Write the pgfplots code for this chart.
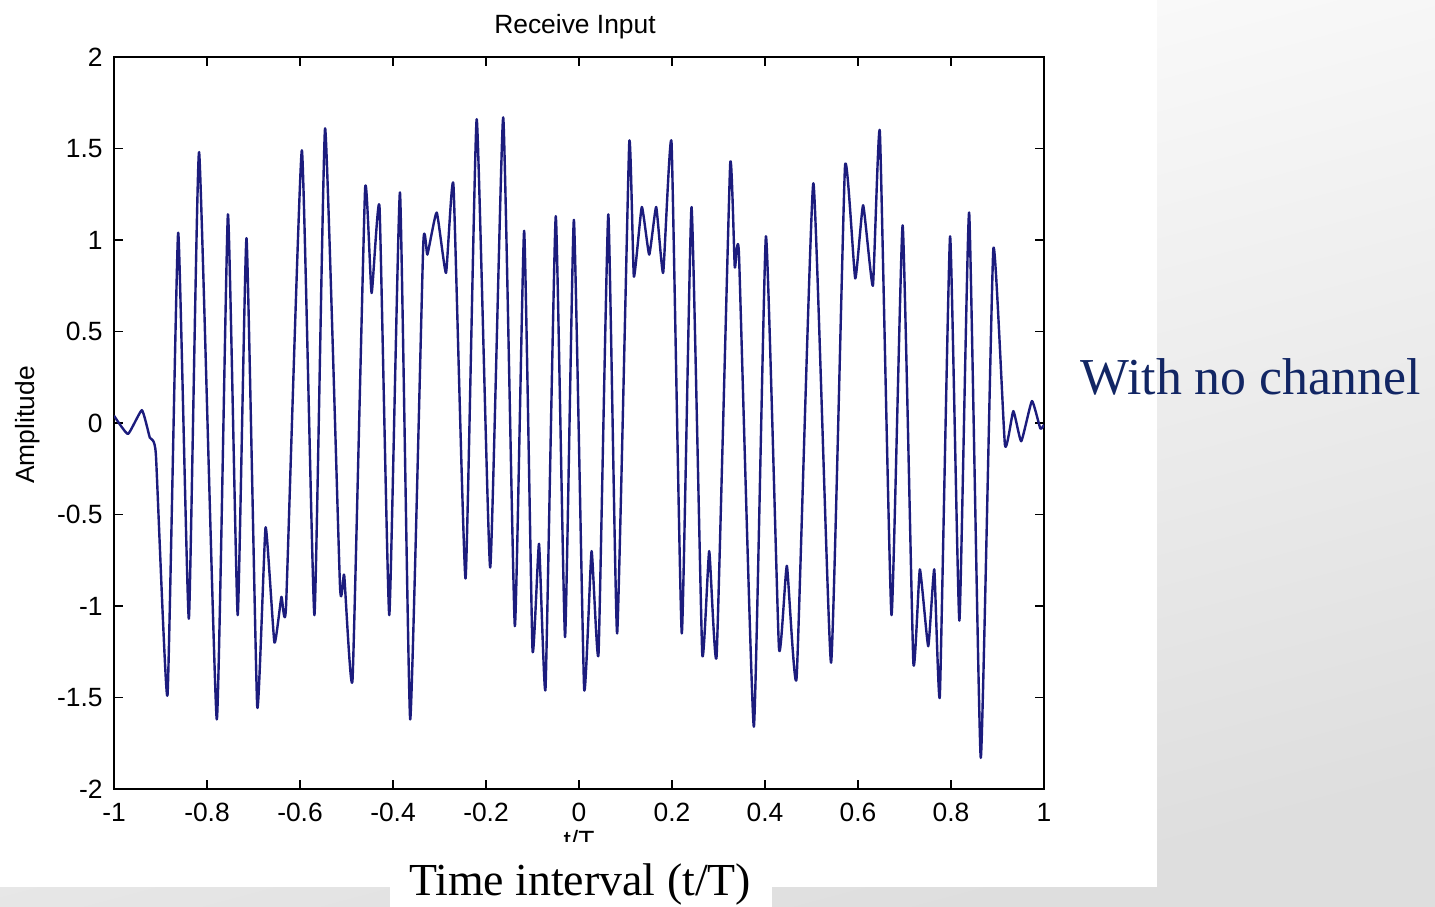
\documentclass[border=0pt]{standalone}
\usepackage{pgfplots}
\pgfplotsset{compat=1.18}
\usepackage{fontspec}
\setmainfont{Liberation Sans}
\newfontfamily\serifft{Liberation Serif}
\definecolor{navy}{RGB}{18,38,100}
\definecolor{wave}{RGB}{28,28,125}

\begin{document}
\begin{tikzpicture}[x=1bp,y=1bp]
\useasboundingbox (0,0) rectangle (717.5,453.5);
\shade[top color=white, bottom color=black!13, shading angle=15] (0,0) rectangle (717.5,453.5);
\fill[white] (0,10) rectangle (578.5,453.5);
\fill[white] (195,0) rectangle (386,23.5);
\begin{axis}[
  at={(57bp,59bp)}, anchor=south west,
  width=465bp, height=366bp, scale only axis,
  xmin=-1, xmax=1, ymin=-2, ymax=2,
  xtick={-1,-0.8,-0.6,-0.4,-0.2,0,0.2,0.4,0.6,0.8,1},
  xticklabels={-1,-0.8,-0.6,-0.4,-0.2,0,0.2,0.4,0.6,0.8,1},
  ytick={-2,-1.5,-1,-0.5,0,0.5,1,1.5,2},
  yticklabels={-2,-1.5,-1,-0.5,0,0.5,1,1.5,2},
  tick align=inside,
  major tick length=4.5bp,
  every tick/.style={black, line width=0.7bp},
  axis line style={line width=0.8bp, black},
  tick label style={font=\fontsize{13.25}{15}\selectfont, inner sep=0pt},
  xticklabel style={yshift=-7bp},
  yticklabel style={xshift=-5.5bp},
]
\addplot[wave, line width=1.2bp, smooth, tension=0.25, line join=round] coordinates {
(-1.000,0.04) (-0.970,-0.06) (-0.940,0.07) (-0.923,-0.08) (-0.910,-0.17)
(-0.885,-1.49) (-0.862,1.04) (-0.839,-1.07) (-0.817,1.48) (-0.779,-1.62)
(-0.755,1.14) (-0.734,-1.05) (-0.715,1.01) (-0.692,-1.55) (-0.674,-0.57)
(-0.655,-1.20) (-0.640,-0.95) (-0.630,-1.00) (-0.596,1.49) (-0.569,-1.05)
(-0.546,1.61) (-0.514,-0.89) (-0.505,-0.83) (-0.487,-1.40) (-0.460,1.28)
(-0.446,0.71) (-0.429,1.18) (-0.408,-1.05) (-0.385,1.26) (-0.363,-1.62)
(-0.335,0.97) (-0.326,0.92) (-0.306,1.15) (-0.286,0.82) (-0.270,1.30)
(-0.244,-0.85) (-0.220,1.66) (-0.191,-0.79) (-0.163,1.67) (-0.138,-1.11)
(-0.118,1.05) (-0.100,-1.24) (-0.086,-0.66) (-0.072,-1.45) (-0.050,1.13)
(-0.030,-1.17) (-0.011,1.11) (0.011,-1.45) (0.027,-0.70) (0.042,-1.26)
(0.063,1.14) (0.082,-1.15) (0.108,1.53) (0.118,0.80) (0.135,1.18)
(0.151,0.92) (0.166,1.18) (0.181,0.82) (0.199,1.53) (0.221,-1.15)
(0.242,1.18) (0.265,-1.26) (0.280,-0.70) (0.296,-1.27) (0.325,1.41)
(0.335,0.85) (0.344,0.92) (0.376,-1.66) (0.402,1.02) (0.430,-1.23)
(0.447,-0.78) (0.468,-1.39) (0.504,1.31) (0.542,-1.31) (0.572,1.40)
(0.594,0.79) (0.611,1.19) (0.632,0.75) (0.647,1.59) (0.672,-1.05)
(0.696,1.08) (0.719,-1.31) (0.733,-0.80) (0.751,-1.22) (0.764,-0.80)
(0.776,-1.49) (0.798,1.02) (0.818,-1.08) (0.839,1.15) (0.864,-1.83)
(0.891,0.95) (0.916,-0.12) (0.934,0.065) (0.951,-0.10) (0.974,0.12)
(0.992,-0.03) (1.000,-0.01)
};
\end{axis}
% title and axis label
\node[anchor=base, font=\fontsize{13.25}{15}\selectfont] at (287.5,436.5) {Receive Input};
\node[rotate=90, font=\fontsize{13.25}{15}\selectfont] at (14,241) {Amplitude};
\begin{scope}
\clip (250,32.5) rectangle (330,45);
\node[anchor=north, font=\fontsize{13.25}{15}\selectfont, inner sep=0pt] at (289.5,38.5) {t/T};
\end{scope}
\node[anchor=base, font=\serifft\fontsize{23}{27}\selectfont, inner sep=0pt] at (290,5.5) {Time interval (t/T)};
\node[anchor=base west, font=\serifft\fontsize{26}{30}\selectfont, text=navy, inner sep=0pt] at (540,256) {With no channel};
\end{tikzpicture}
\end{document}
